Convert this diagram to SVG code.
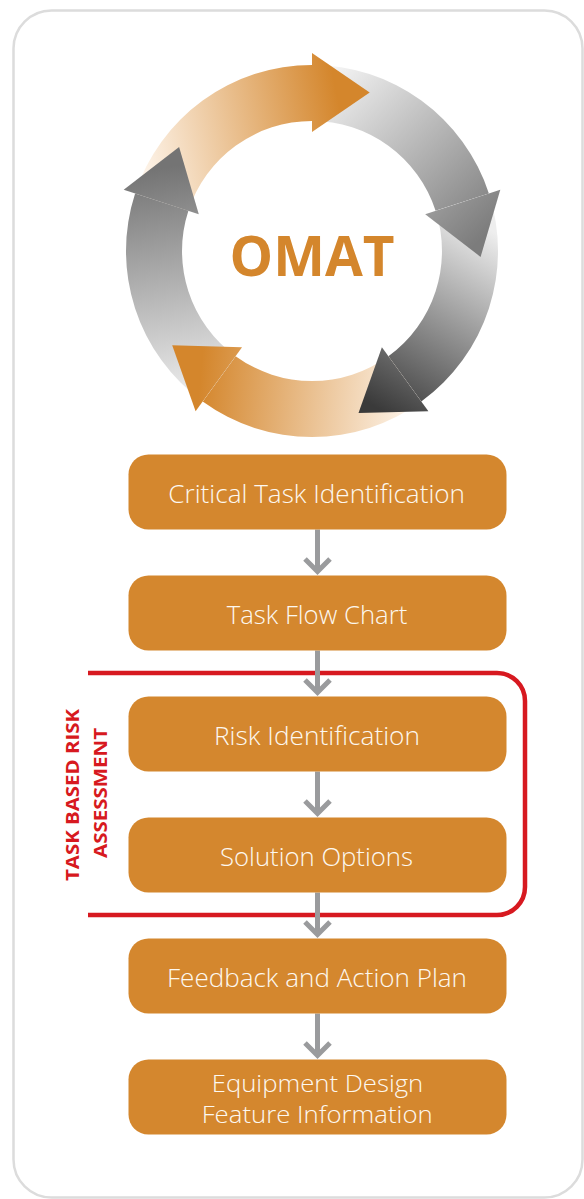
<svg xmlns="http://www.w3.org/2000/svg" width="584" height="1199" viewBox="0 0 584 1199">
<defs>
<style>
.box{fill:#d4872e;}
.lbl{font-family:"Open Sans","Noto Sans","DejaVu Sans",sans-serif;font-weight:300;font-size:26px;fill:#fdf8f0;text-anchor:middle;}
.lbl2{font-size:23px;}
.conn{fill:none;stroke:#9a9b9d;stroke-width:5;}
.red{fill:none;stroke:#d71920;stroke-width:4.5;}
.side{font-family:"Open Sans","Noto Sans","DejaVu Sans",sans-serif;font-weight:bold;font-size:17px;fill:#d71920;text-anchor:middle;}
</style>
<linearGradient id="g1" gradientUnits="userSpaceOnUse" x1="140" y1="150" x2="340" y2="110">
<stop offset="0" stop-color="#fdf3e8"/><stop offset="1" stop-color="#d4862c"/>
</linearGradient>
<linearGradient id="g2" gradientUnits="userSpaceOnUse" x1="330" y1="70" x2="485" y2="235">
<stop offset="0" stop-color="#f4f4f4"/><stop offset="1" stop-color="#7c7c7c"/>
</linearGradient>
<linearGradient id="g3" gradientUnits="userSpaceOnUse" x1="490" y1="230" x2="380" y2="410">
<stop offset="0" stop-color="#eeeeee"/><stop offset="1" stop-color="#3a3a3a"/>
</linearGradient>
<linearGradient id="g4" gradientUnits="userSpaceOnUse" x1="410" y1="400" x2="200" y2="380">
<stop offset="0" stop-color="#fdf3e8"/><stop offset="1" stop-color="#d4862c"/>
</linearGradient>
<linearGradient id="g5" gradientUnits="userSpaceOnUse" x1="190" y1="410" x2="150" y2="170">
<stop offset="0" stop-color="#f4f4f4"/><stop offset="1" stop-color="#747474"/>
</linearGradient>
</defs>

<rect id="frame" x="13.5" y="10.5" width="569" height="1187" rx="38" fill="#ffffff" stroke="#dcdcdc" stroke-width="2.5"/>

<g id="cycle">
<path d="M135.1,193.5 A186,186 0 0 1 312,65 L312,121 A130,130 0 0 0 188.4,210.8 Z" fill="url(#g1)"/>
<path d="M312,65 A186,186 0 0 1 488.9,193.5 L435.6,210.8 A130,130 0 0 0 312,121 Z" fill="url(#g2)"/>
<path d="M488.9,193.5 A186,186 0 0 1 421.3,401.5 L388.4,356.2 A130,130 0 0 0 435.6,210.8 Z" fill="url(#g3)"/>
<path d="M421.3,401.5 A186,186 0 0 1 202.7,401.5 L235.6,356.2 A130,130 0 0 0 388.4,356.2 Z" fill="url(#g4)"/>
<path d="M202.7,401.5 A186,186 0 0 1 135.1,193.5 L188.4,210.8 A130,130 0 0 0 235.6,356.2 Z" fill="url(#g5)"/>
<polygon points="312,53 369.7,92.5 312,132" fill="url(#g1)"/>
<polygon points="500.3,189.8 480.6,256.9 425.2,214.2" fill="url(#g2)"/>
<polygon points="428.4,411.2 358.5,413.1 381.9,347.3" fill="url(#g3)"/>
<polygon points="195.6,411.2 172.2,345.3 242.05,347.3" fill="url(#g4)"/>
<polygon points="123.7,189.8 179.1,147.1 198.8,214.2" fill="url(#g5)"/>
<text x="312" y="276" font-family="'Open Sans','Noto Sans','DejaVu Sans',sans-serif" font-weight="bold" font-size="56" fill="#d4862c" text-anchor="middle" textLength="165" lengthAdjust="spacingAndGlyphs">OMAT</text>
</g>

<g id="bracket">
<path class="red" d="M88,673 H497 A28,28 0 0 1 525,701 V887 A28,28 0 0 1 497,915 H88"/>
<text class="side" transform="translate(78.5,795) rotate(-90)" x="0" y="0" textLength="172" lengthAdjust="spacingAndGlyphs">TASK BASED RISK</text>
<text class="side" transform="translate(106.7,793) rotate(-90)" x="0" y="0" textLength="130" lengthAdjust="spacingAndGlyphs">ASSESSMENT</text>
</g>

<g id="connectors">
<path class="conn" d="M317.5,529.5 V571"/>
<path class="conn" d="M305,559 L317.5,571.5 L330,559"/>
<path class="conn" d="M317.5,650.5 V692"/>
<path class="conn" d="M305,680 L317.5,692.5 L330,680"/>
<path class="conn" d="M317.5,771.5 V813"/>
<path class="conn" d="M305,801 L317.5,813.5 L330,801"/>
<path class="conn" d="M317.5,892.5 V934"/>
<path class="conn" d="M305,922 L317.5,934.5 L330,922"/>
<path class="conn" d="M317.5,1013.5 V1055"/>
<path class="conn" d="M305,1043 L317.5,1055.5 L330,1043"/>
</g>

<g id="n1">
<rect class="box" x="128.5" y="454.5" width="378" height="75" rx="20"/>
<text class="lbl" x="316.7" y="503.3" textLength="296.7" lengthAdjust="spacingAndGlyphs">Critical Task Identification</text>
</g>
<g id="n2">
<rect class="box" x="128.5" y="575.5" width="378" height="75" rx="20"/>
<text class="lbl" x="317" y="623.5" textLength="180.6" lengthAdjust="spacingAndGlyphs">Task Flow Chart</text>
</g>
<g id="n3">
<rect class="box" x="128.5" y="696.5" width="378" height="75" rx="20"/>
<text class="lbl" x="317" y="745" textLength="206" lengthAdjust="spacingAndGlyphs">Risk Identification</text>
</g>
<g id="n4">
<rect class="box" x="128.5" y="817.5" width="378" height="75" rx="20"/>
<text class="lbl" x="316.5" y="866" textLength="193" lengthAdjust="spacingAndGlyphs">Solution Options</text>
</g>
<g id="n5">
<rect class="box" x="128.5" y="938.5" width="378" height="75" rx="20"/>
<text class="lbl" x="317" y="987" textLength="300" lengthAdjust="spacingAndGlyphs">Feedback and Action Plan</text>
</g>
<g id="n6">
<rect class="box" x="128.5" y="1059.5" width="378" height="75" rx="20"/>
<text class="lbl lbl2" x="317.5" y="1091.7" textLength="211.6" lengthAdjust="spacingAndGlyphs">Equipment Design</text>
<text class="lbl lbl2" x="317.2" y="1123.3" textLength="231" lengthAdjust="spacingAndGlyphs">Feature Information</text>
</g>
</svg>
